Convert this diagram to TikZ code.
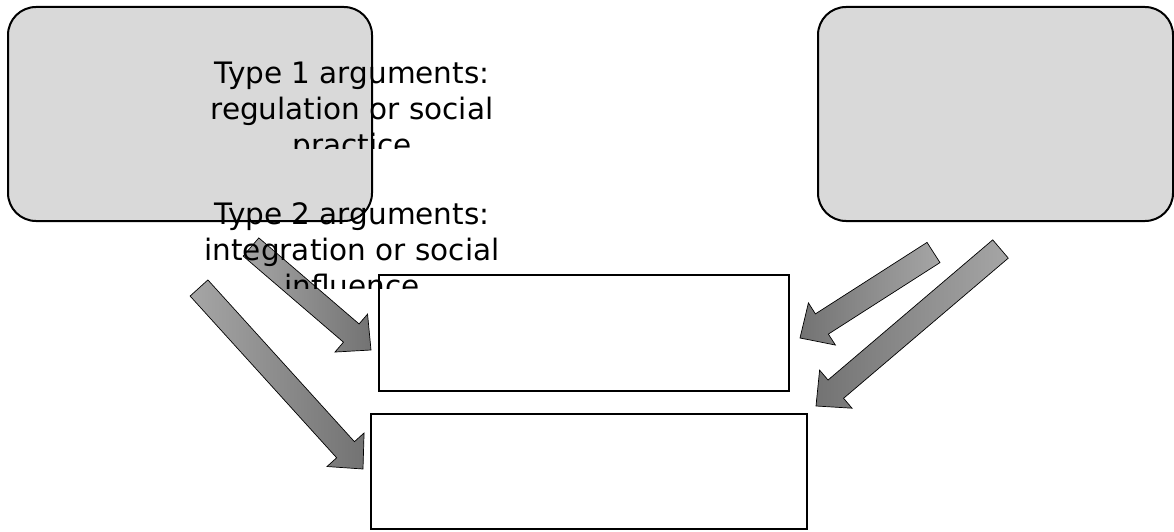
\documentclass[tikz,border=0pt]{standalone}
\usepackage{fontspec}
\setmainfont{DejaVu Sans}
\usetikzlibrary{calc}
\definecolor{boxgray}{rgb}{0.85, 0.85, 0.85}

% block arrow from tail coordinate #2 to tip coordinate #3
\newcommand{\BlockArrow}[3][]{%
  \coordinate (neck) at ($(#3)!26pt!(#2)$);
  \draw[ArrowStyle,#1] ($(#2)!12pt!90:(#3)$) -- ($(neck)!12pt!90:(#3)$)
    -- ($(neck)!25pt!90:(#3)$) -- (#3) -- ($(neck)!25pt!-90:(#3)$)
    -- ($(neck)!12pt!-90:(#3)$) -- ($(#2)!12pt!-90:(#3)$) -- cycle;
}

\begin{document}
\begin{tikzpicture}[x=1pt,y=-1pt]
  \tikzset{RoundBoxStyle/.style = {
    shape          = rectangle,
    draw           = black,
    fill           = boxgray,
    line width     = 2pt,
    rounded corners = 28pt,
    minimum height = 214pt,
    inner sep      = 0pt,
    outer sep      = 0pt
    }
  }
  \tikzset{BoxStyle/.style = {
    shape          = rectangle,
    draw           = black,
    fill           = white,
    line width     = 2pt,
    inner sep      = 0pt,
    outer sep      = 0pt
    }
  }
  \tikzset{ArrowStyle/.style = {
    draw           = black,
    line width     = 0.7pt,
    line join      = miter
    }
  }
  \tikzset{LabelStyle/.style = {
    align          = center,
    inner sep      = 0pt,
    text           = black,
    font           = \fontsize{29.5}{36}\selectfont
    }
  }

  \useasboundingbox (0,0) rectangle (1174,532);

  \node[RoundBoxStyle, minimum width=364pt](leftbox) at (190, 114) {};
  \node[RoundBoxStyle, minimum width=355pt](rightbox) at (995.5, 114) {};
  \node[BoxStyle, minimum width=410pt, minimum height=116pt](upperbox) at (584, 333) {};
  \node[BoxStyle, minimum width=436pt, minimum height=115pt](lowerbox) at (589, 471.5) {};

  \coordinate (tailA) at (251, 247);
  \coordinate (tipA) at (371, 350);
  \coordinate (tailB) at (199, 288);
  \coordinate (tipB) at (363, 469);
  \coordinate (tailC) at (933.5, 252.5);
  \coordinate (tipC) at (800, 338);
  \coordinate (tailD) at (1000.5, 249);
  \coordinate (tipD) at (816, 406);
  \BlockArrow[left color=black!35, right color=black!55]{tailA}{tipA}
  \BlockArrow[left color=black!35, right color=black!55]{tailB}{tipB}
  \BlockArrow[left color=black!55, right color=black!35]{tailC}{tipC}
  \BlockArrow[left color=black!55, right color=black!35]{tailD}{tipD}

  \begin{scope}
    \clip (180, 40) rectangle (540, 148);
    \node[LabelStyle](type1) at (352, 112) {Type 1 arguments:\\regulation or social\\practice};
  \end{scope}
  \begin{scope}
    \clip (180, 180) rectangle (540, 288);
    \node[LabelStyle](type2) at (352, 250) {Type 2 arguments:\\integration or social\\influence};
  \end{scope}

\end{tikzpicture}
\end{document}
